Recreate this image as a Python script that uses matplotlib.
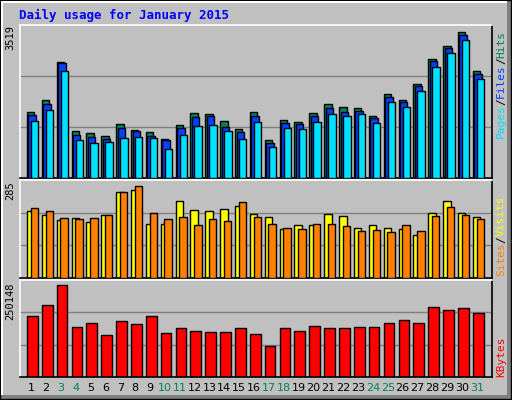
import matplotlib
matplotlib.use("Agg")
import matplotlib.pyplot as plt
from matplotlib.patches import Rectangle

# ------------------------------------------------------------
# Data
# ------------------------------------------------------------
days = list(range(1, 32))
weekend = [3, 4, 10, 11, 17, 18, 24, 25, 31]

hits = [1551, 1829, 2732, 1111, 1065, 995, 1273, 1134, 1088, 926, 1250, 1528, 1505, 1343, 1158,
        1551, 880, 1366, 1320, 1528, 1736, 1667, 1644, 1458, 1968, 1829, 2199, 2801, 3102, 3426, 2500]
files = [1482, 1736, 2709, 1019, 972, 926, 1181, 1111, 995, 880, 1181, 1435, 1458, 1204, 1088,
         1458, 810, 1296, 1273, 1458, 1644, 1551, 1574, 1412, 1898, 1783, 2153, 2755, 3056, 3357, 2431]
pages = [1343, 1597, 2500, 880, 810, 833, 949, 972, 949, 671, 1019, 1227, 1250, 1111, 926,
         1320, 718, 1181, 1158, 1320, 1505, 1458, 1505, 1296, 1783, 1667, 2037, 2593, 2940, 3241, 2315]
visits = [202, 190, 175, 181, 169, 190, 258, 264, 161, 161, 232, 205, 202, 208, 217,
          193, 184, 146, 158, 158, 193, 187, 151, 158, 149, 146, 128, 196, 232, 196, 184]
sites = [211, 202, 181, 178, 181, 190, 258, 276, 196, 178, 184, 160, 178, 172, 229,
         184, 163, 149, 146, 161, 163, 157, 140, 143, 137, 158, 140, 187, 214, 190, 178]
kbytes = [161400, 191000, 244800, 131800, 142600, 110300, 148000, 139900, 161400, 115600,
          129100, 121000, 118400, 118400, 129100, 113000, 83000, 129100, 121000, 134500,
          129100, 129100, 131800, 131800, 142600, 150600, 142600, 185600, 177600, 183000, 169500]

MAX_HITS = 3519
MAX_SITES = 285
MAX_KB = 250148

BG = "#c0c0c0"
W, H = 512, 400

fig = plt.figure(figsize=(W / 100, H / 100), dpi=100)
fig.patch.set_facecolor("#ffffff")

# outer frame with 3D look
frame = fig.add_axes([0, 0, 1, 1])
frame.set_xlim(0, W)
frame.set_ylim(H, 0)
frame.axis("off")
frame.add_patch(Rectangle((0, 0), W - 1, H - 1, fc="#808080", ec="black", lw=1))
frame.add_patch(Rectangle((1, 1), W - 6, H - 6, fc=BG, ec="none"))
frame.add_patch(Rectangle((1, 1), W - 6, 1.5, fc="white", ec="none"))
frame.add_patch(Rectangle((1, 1), 1.5, H - 6, fc="white", ec="none"))
frame.text(19, 15, "Daily usage for January 2015", color="#0000ff", fontsize=9,
           fontweight="bold", family="DejaVu Sans Mono", va="center")

X0, X1 = 20, 492
XLIM = (-0.02, 31.74)


def panel(top, bottom):
    ax = fig.add_axes([X0 / W, 1 - bottom / H, (X1 - X0) / W, (bottom - top) / H])
    ax.set_facecolor(BG)
    ax.set_xlim(*XLIM)
    ax.set_xticks([])
    ax.set_yticks([])
    for s in ax.spines.values():
        s.set_color("black")
        s.set_linewidth(1.2)
    ax.spines["left"].set_color("white")
    ax.spines["top"].set_color("white")
    return ax


def grid(ax, vmax):
    for f in (1 / 3, 2 / 3):
        ax.axhline(vmax * f, color="#808080", lw=1, zorder=0.5)


# panel 1: hits / files / pages
ax1 = panel(25, 178)
ax1.set_ylim(0, MAX_HITS * 1.02)
grid(ax1, MAX_HITS * 1.02)
kw = dict(edgecolor="black", linewidth=1, align="edge")
ax1.bar([d - 0.55 for d in days], hits, width=0.5, color="#00805c", **kw, zorder=2)
ax1.bar([d - 0.45 for d in days], files, width=0.5, color="#0040ff", **kw, zorder=3)
ax1.bar([d - 0.28 for d in days], pages, width=0.5, color="#00e0ff", **kw, zorder=4)

# panel 2: visits / sites
ax2 = panel(180, 278)
ax2.set_ylim(0, MAX_SITES * 1.03)
grid(ax2, MAX_SITES * 1.03)
ax2.bar([d - 0.55 for d in days], visits, width=0.5, color="#ffff00", **kw, zorder=2)
ax2.bar([d - 0.3 for d in days], sites, width=0.5, color="#ff8000", **kw, zorder=3)

# panel 3: kbytes
ax3 = panel(280, 377)
ax3.set_ylim(0, MAX_KB * 1.03)
grid(ax3, MAX_KB * 1.03)
ax3.bar([d - 0.55 for d in days], kbytes, width=0.72, color="#ff0000", **kw, zorder=2)

# left max labels
for y, s in [(25, "3519"), (181, "285"), (282, "250148")]:
    frame.text(10, y, s, rotation=90, ha="center", va="top", fontsize=7.5,
               family="DejaVu Sans Mono")

# right vertical legends (bottom to top)
FS = 8
ADV = FS * 0.602 * 100 / 72


def vlegend(y_bottom, parts):
    y = y_bottom
    for txt, col in parts:
        frame.text(501, y, txt, rotation=90, ha="center", va="bottom", fontsize=FS,
                   family="DejaVu Sans Mono", color=col)
        y -= len(txt) * ADV


vlegend(138, [("Pages", "#00e0ff"), ("/", "black"), ("Files", "#0040ff"),
              ("/", "black"), ("Hits", "#00805c")])
vlegend(276, [("Sites", "#ff8000"), ("/", "black"), ("Visits", "#ffff00")])
vlegend(377, [("KBytes", "#ff0000")])

# day labels
for d in days:
    xp = X0 + (d - 0.27 - XLIM[0]) / (XLIM[1] - XLIM[0]) * (X1 - X0)
    frame.text(xp, 388, str(d), ha="center", va="center", fontsize=8,
               color="#008060" if d in weekend else "black")

fig.savefig("out.png", dpi=100, facecolor=fig.get_facecolor())
